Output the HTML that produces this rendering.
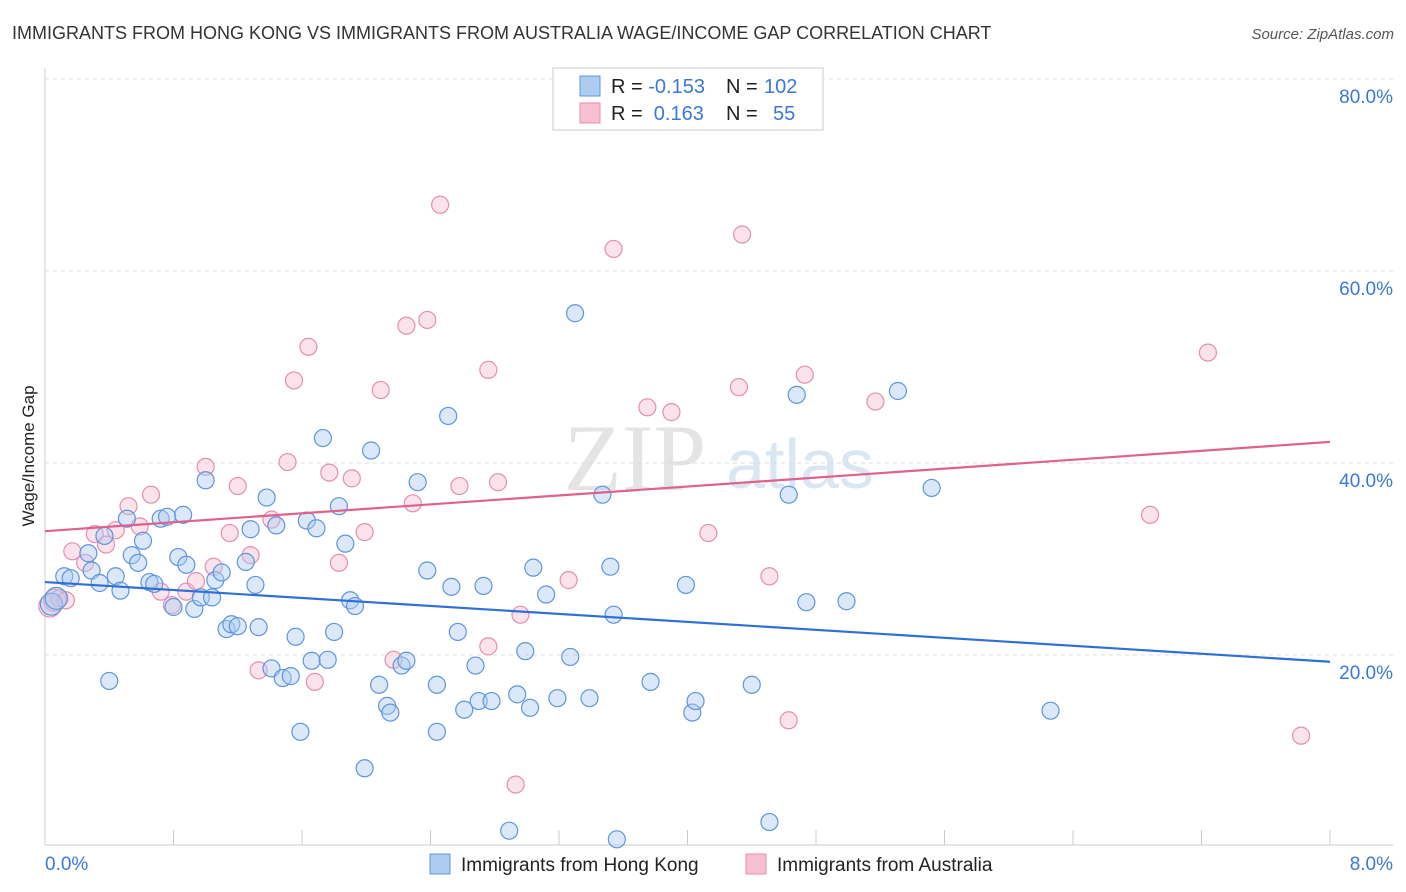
<!DOCTYPE html>
<html><head><meta charset="utf-8">
<style>
body{margin:0;background:#fff;font-family:"Liberation Sans",sans-serif;}
#wrap{position:relative;width:1406px;height:892px;overflow:hidden;}
</style></head>
<body>
<div id="wrap">
<svg id="chart" width="1406" height="892"></svg>
</div>
<script>
const blueX=[0.04,0.07,0.12,0.16,0.27,0.29,0.34,0.37,0.40,0.44,0.47,0.51,0.54,0.58,0.61,0.65,0.68,0.72,0.76,0.80,0.83,0.86,0.88,0.93,0.97,1.00,1.04,1.06,1.10,1.13,1.16,1.20,1.25,1.28,1.31,1.33,1.38,1.41,1.44,1.48,1.53,1.56,1.59,1.63,1.66,1.69,1.73,1.76,1.80,1.83,1.87,1.90,1.93,1.99,2.03,2.08,2.13,2.15,2.22,2.25,2.32,2.38,2.44,2.44,2.51,2.53,2.57,2.61,2.68,2.70,2.73,2.78,2.89,2.94,2.99,3.02,3.04,3.12,3.19,3.27,3.30,3.39,3.47,3.52,3.54,3.56,3.77,3.99,4.03,4.05,4.40,4.51,4.63,4.68,4.74,4.99,5.31,5.52,6.26];
const blueY=[25.3,25.9,28.2,28.0,30.6,28.8,27.5,32.4,17.3,28.2,26.7,34.2,30.4,29.6,31.9,27.6,27.4,34.2,34.4,25.0,30.2,34.6,29.4,24.8,26.0,38.2,26.0,27.8,28.6,22.7,23.2,23.0,29.7,33.1,27.3,22.9,36.4,18.6,33.5,17.6,17.8,21.9,12.0,34.0,19.4,33.2,42.6,19.5,22.4,35.5,31.6,25.7,25.1,8.2,41.3,16.9,14.7,14.0,18.9,19.4,38.0,28.8,16.9,12.0,44.9,27.1,22.4,14.3,18.9,15.2,27.2,15.2,1.7,15.9,20.4,14.5,29.1,26.3,15.5,19.8,55.6,15.5,36.7,29.2,24.2,0.8,17.2,27.3,14.0,15.2,16.9,2.6,36.7,47.1,25.5,25.6,47.5,37.4,14.2];
const pinkX=[0.03,0.06,0.09,0.13,0.17,0.25,0.31,0.38,0.44,0.52,0.59,0.66,0.72,0.79,0.88,0.94,1.00,1.05,1.15,1.20,1.28,1.33,1.41,1.51,1.55,1.64,1.68,1.77,1.83,1.91,1.99,2.09,2.17,2.25,2.29,2.38,2.46,2.58,2.76,2.76,2.82,2.96,3.26,3.54,3.75,3.90,4.13,4.32,4.34,4.51,4.63,4.73,5.17,6.88,7.24,7.82,2.93];
const pinkY=[25.1,25.7,25.9,25.7,30.8,29.6,32.6,31.5,33.0,35.5,33.4,36.7,26.6,25.2,26.6,27.7,39.6,29.2,32.7,37.6,30.4,18.4,34.1,40.1,48.6,52.1,17.2,39.0,29.6,38.4,32.8,47.6,19.5,54.3,35.8,54.9,66.9,37.6,20.9,49.7,38.0,24.2,27.8,62.3,45.8,45.3,32.7,47.9,63.8,28.2,13.2,49.2,46.4,34.6,51.5,11.6,6.5];
const trendBlue=[27.6,19.3];
const trendPink=[32.9,42.2];
const yTicks=[20,40,60,80];
const yTickLabels=["20.0%","40.0%","60.0%","80.0%"];

const svg=document.getElementById('chart');
const NS='http://www.w3.org/2000/svg';
const X0=45,X1=1330,Y0=847,PXY=9.6;
function xs(v){return X0+(X1-X0)*v/8;}
function ys(v){return Y0-v*PXY;}
function mk(tag,attrs,parent){const e=document.createElementNS(NS,tag);for(const k in attrs)e.setAttribute(k,attrs[k]);(parent||svg).appendChild(e);return e;}

let t=mk('text',{x:12,y:39,'font-size':18,fill:'#333'});t.textContent='IMMIGRANTS FROM HONG KONG VS IMMIGRANTS FROM AUSTRALIA WAGE/INCOME GAP CORRELATION CHART';


t=mk('text',{x:1394,y:39,'font-size':15,fill:'#555','text-anchor':'end','font-style':'italic'});t.textContent='Source: ZipAtlas.com';



t=mk('text',{x:635,y:490,'font-size':95,fill:'#e4e4e4','text-anchor':'middle','font-family':'Liberation Serif,serif'});t.textContent='ZIP';


t=mk('text',{x:800,y:488,'font-size':70,fill:'#dbe6f3','text-anchor':'middle'});t.textContent='atlas';



yTicks.forEach((v,i)=>{
  const g=mk('line',{x1:X0,x2:1393,y1:ys(v),y2:ys(v),stroke:'#ddd','stroke-dasharray':'4,4'});
  
  
  const l=mk('text',{x:1393,y:ys(v)+24,'font-size':19,fill:'#3b78d8','text-anchor':'end'});l.textContent=yTickLabels[i];
  
  
});
let a=mk('line',{x1:X0,x2:X0,y1:68,y2:845,stroke:'#ccc'});


a=mk('line',{x1:X0,x2:1393,y1:845,y2:845,stroke:'#ccc'});


for(let i=0;i<=10;i++){
  const tk=mk('line',{x1:xs(i*0.8),x2:xs(i*0.8),y1:830,y2:845,stroke:'#ccc'});
  
  
}
t=mk('text',{x:45,y:870,'font-size':19,fill:'#3b78d8'});t.textContent='0.0%';


t=mk('text',{x:1393,y:870,'font-size':19,fill:'#3b78d8','text-anchor':'end'});t.textContent='8.0%';


t=mk('text',{x:34,y:456,'font-size':17,fill:'#222','text-anchor':'middle',transform:'rotate(-90 34 456)'});t.textContent='Wage/Income Gap';



function pts(X,Y,fill,stroke,name){
  X.forEach((x,i)=>{
    const c=mk('circle',{cx:xs(x),cy:ys(Y[i]),r:i<2?11:8.5,fill:fill,'fill-opacity':0.45,stroke:stroke,'stroke-width':1.2});
    
    
  });
}
pts(pinkX,pinkY,'#f7bfd2','#e58fb0','point-australia');
pts(blueX,blueY,'#aecbf2','#5f95dc','point-hong-kong');

let l=mk('line',{x1:xs(0),y1:ys(trendBlue[0]),x2:xs(8),y2:ys(trendBlue[1]),stroke:'#2f6fd6','stroke-width':2.2});


l=mk('line',{x1:xs(0),y1:ys(trendPink[0]),x2:xs(8),y2:ys(trendPink[1]),stroke:'#e0608e','stroke-width':2.2});



let r=mk('rect',{x:553,y:68,width:270,height:62,fill:'#fff',stroke:'#ccc'});


[['#aecbf2','#5f95dc','-0.153','102',86],['#f7bfd2','#e58fb0',' 0.163',' 55',113]].forEach((d,i)=>{
  const s=mk('rect',{x:580,y:d[4]-10,width:20,height:20,fill:d[0],stroke:d[1]});
  
  
  const tx=mk('text',{x:611,y:d[4]+7,'font-size':20,fill:'#222'});
  tx.innerHTML='R = <tspan fill="#3b78d8">'+(i?'&#160;0.163':'-0.153')+'</tspan>  <tspan x="726">N = </tspan><tspan fill="#3b78d8" x="'+(i?773:764)+'">'+d[3].trim()+'</tspan>';
  
  
});

[['#aecbf2','#5f95dc',430,'Immigrants from Hong Kong'],['#f7bfd2','#e58fb0',746,'Immigrants from Australia']].forEach(d=>{
  const s=mk('rect',{x:d[2],y:854,width:20,height:20,fill:d[0],stroke:d[1]});
  
  
  const tx=mk('text',{x:d[2]+31,y:871,'font-size':19,fill:'#222'});tx.textContent=d[3];
  
  
});
</script>
</body></html>
